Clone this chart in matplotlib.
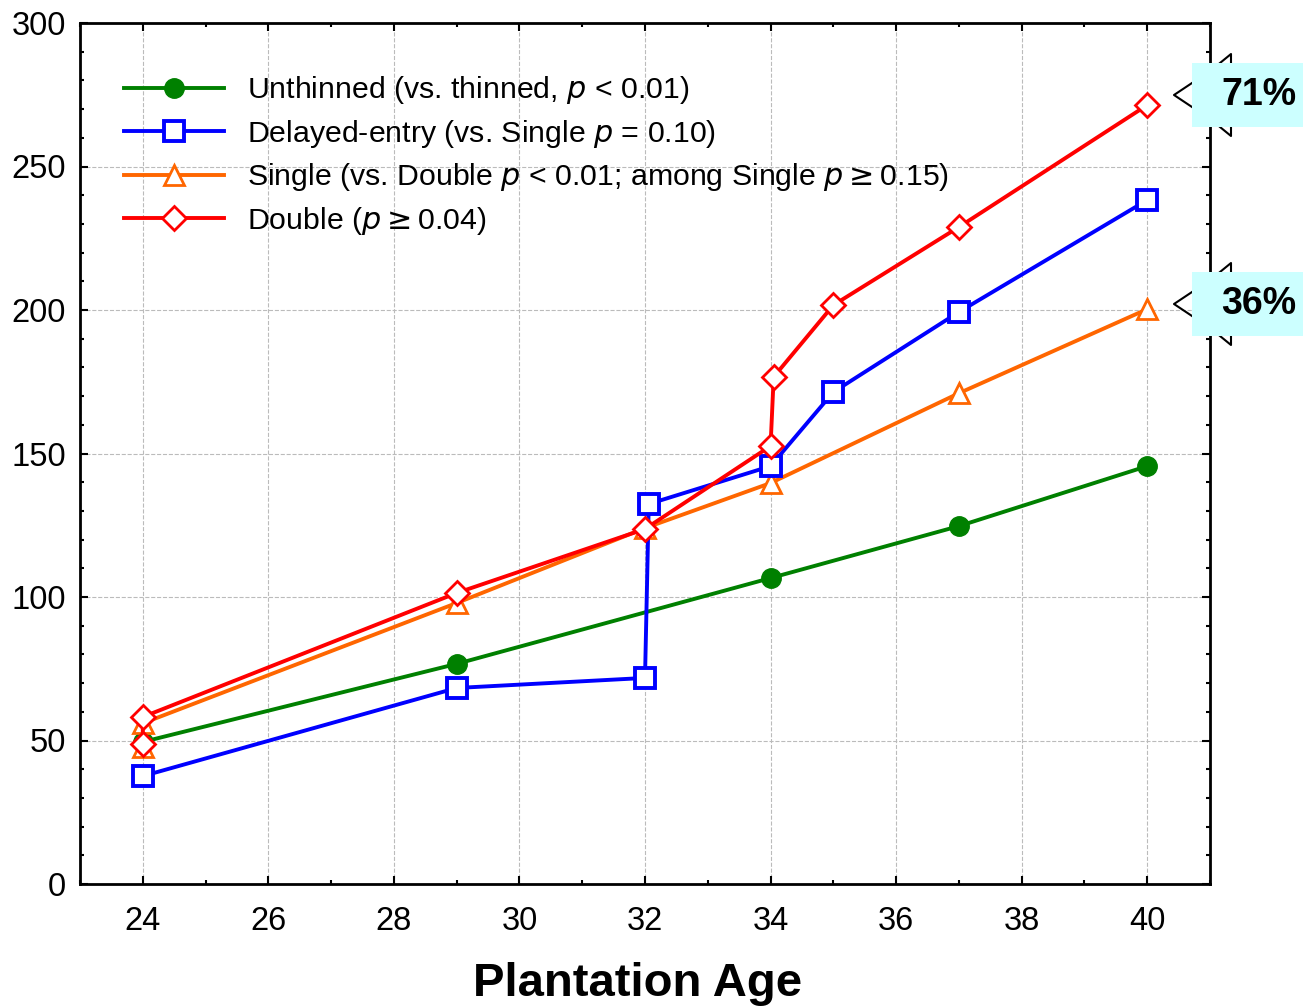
import matplotlib.pyplot as plt
from matplotlib.lines import Line2D
from matplotlib.patches import Rectangle
from matplotlib.ticker import MultipleLocator

plt.rcParams['font.family'] = ['Liberation Sans', 'DejaVu Sans']

# values
unthinned_age = [24, 29, 34, 37, 40]
unthinned_val = [49.5, 76.7, 106.6, 124.7, 145.6]

delayed_age = [24, 29, 32, 32.06, 34, 35, 37, 40]
delayed_val = [37.6, 68.3, 71.8, 132.4, 145.6, 171.4, 199.3, 238.3]

single_age = [24, 24, 29, 32, 34, 37, 40]
single_val = [47.8, 56.0, 97.9, 124.0, 139.7, 171.0, 200.3]

double_age = [24, 24, 29, 32, 34, 34.05, 35, 37, 40]
double_val = [48.8, 58.2, 101.4, 123.7, 152.6, 176.7, 201.7, 228.9, 271.4]

labels = [r'Unthinned (vs. thinned, $\it{p}$ < 0.01)',
          r'Delayed-entry (vs. Single $\it{p}$ = 0.10)',
          r'Single (vs. Double $\it{p}$ < 0.01; among Single $\it{p}$$\geq$0.15)',
          r'Double ($\it{p}$$\geq$0.04)']
callouts = ['71%', '36%']
callout_y = [95, 304]  # pixel rows of the callout centres

fig = plt.figure(figsize=(13.03, 10.07), dpi=100)
ax = fig.add_axes([80/1303, 123/1007, 1130/1303, 861/1007])

ax.plot(unthinned_age, unthinned_val, color='#008000', lw=2.8, marker='o', ms=14,
        mfc='#008000', mec='#008000', label=labels[0], zorder=3)
ax.plot(delayed_age, delayed_val, color='#0000ff', lw=2.8, marker='s', ms=14,
        mfc='white', mec='#0000ff', mew=2.8, label=labels[1], zorder=4)
ax.plot(single_age, single_val, color='#ff6600', lw=2.8, marker='^', ms=14,
        mfc='white', mec='#ff6600', mew=2, label=labels[2], zorder=3)
ax.plot(double_age, double_val, color='#ff0000', lw=2.8, marker='D', ms=12,
        mfc='white', mec='#ff0000', mew=2, label=labels[3], zorder=5)

ax.set_xlim(23, 41)
ax.set_ylim(0, 300)
ax.xaxis.set_major_locator(MultipleLocator(2))
ax.xaxis.set_minor_locator(MultipleLocator(1))
ax.yaxis.set_major_locator(MultipleLocator(50))
ax.yaxis.set_minor_locator(MultipleLocator(10))
ax.tick_params(which='both', direction='in', top=True, right=True, labelsize=23.5, width=1.5)
ax.tick_params(which='major', length=6)
ax.tick_params(which='minor', length=3)
ax.tick_params(axis='x', pad=16)
ax.tick_params(axis='y', pad=10)
ax.grid(True, which='major', ls='--', color='#bbbbbb', lw=0.8)
for s in ax.spines.values():
    s.set_linewidth(2)

ax.set_xlabel('Plantation Age', fontsize=34, fontweight='bold', labelpad=20)
ax.xaxis.set_label_coords(0.493, -0.091)

leg = ax.legend(loc='upper left', bbox_to_anchor=(0.015, 0.972), frameon=False, fontsize=21.8,
                handlelength=3.3, handletextpad=0.75, labelspacing=0.38)

# callout boxes on the right edge
for txt, yp in zip(callouts, callout_y):
    yf = 1 - yp / 1007
    h = 64 / 1007
    x0 = 1192 / 1303
    # pointer and spikes behind the box
    fig.add_artist(Line2D([x0, 1174/1303, x0], [yf + 12/1007, yf, yf - 12/1007],
                          color='black', lw=1.5, transform=fig.transFigure, zorder=9))
    fig.add_artist(Line2D([1220/1303, 1231/1303, 1231/1303],
                          [yf + h/2, yf + h/2 + 9/1007, yf + h/2],
                          color='black', lw=1.5, transform=fig.transFigure, zorder=9))
    fig.add_artist(Line2D([1220/1303, 1231/1303, 1231/1303],
                          [yf - h/2, yf - h/2 - 9/1007, yf - h/2],
                          color='black', lw=1.5, transform=fig.transFigure, zorder=9))
    fig.add_artist(Rectangle((x0, yf - h/2), 1 - x0, h, facecolor='#ccffff',
                             edgecolor='none', transform=fig.transFigure, zorder=10))
    fig.text(1259/1303, yf, txt, fontsize=27, fontweight='bold', ha='center', va='center',
             zorder=11)

plt.savefig('out.png', dpi=100)
